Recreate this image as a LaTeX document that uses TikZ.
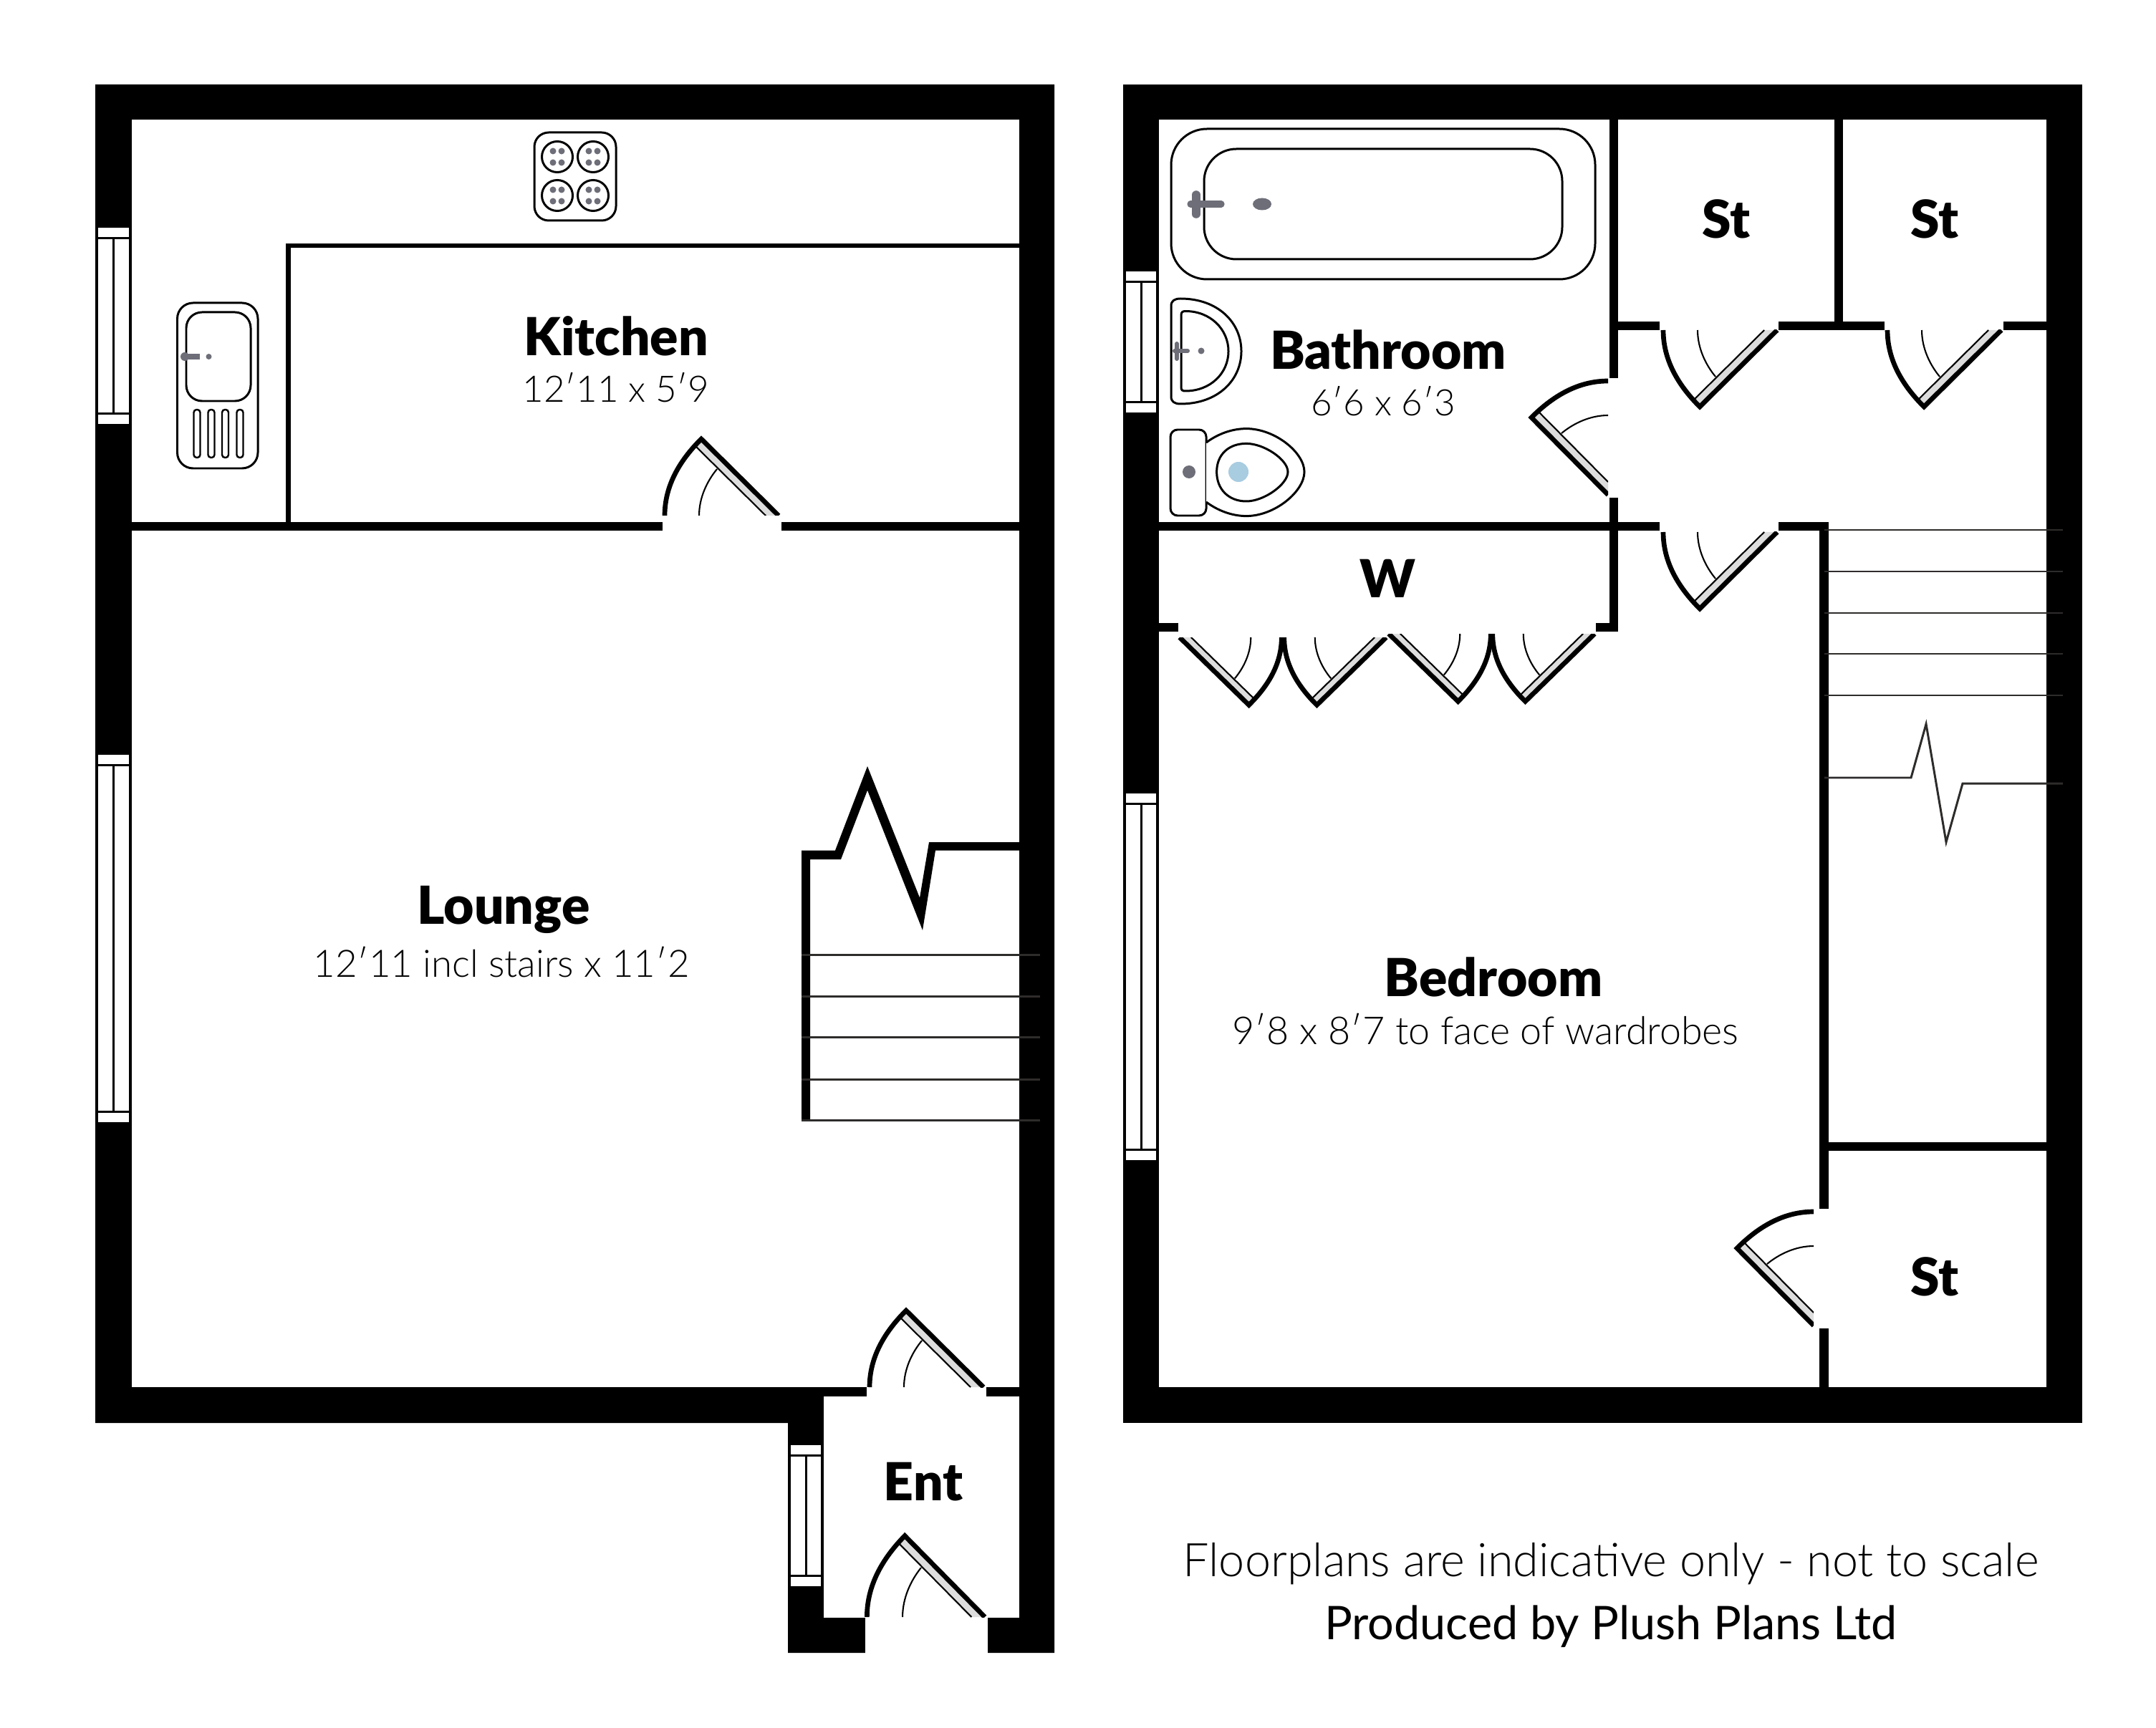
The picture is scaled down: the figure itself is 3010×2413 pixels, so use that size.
\documentclass[tikz,border=0pt]{standalone}
\usepackage{fontspec}
\setmainfont{Lato}
\newfontfamily\roomfont{Lato}[UprightFont=* Black]
\newfontfamily\sizefont{Lato}[UprightFont=* Light]
\definecolor{fixturegrey}{HTML}{6D6E78}
\definecolor{leafgrey}{HTML}{DDDDDD}
\definecolor{treadgrey}{HTML}{2E2C2B}
\definecolor{pan}{HTML}{A8CCE0}
\tikzset{
  wall/.style={fill=black},
  gap/.style={fill=white},
  fixture/.style={draw=black, line width=0.85pt, fill=white},
  tread/.style={draw=treadgrey, line width=0.85pt},
  roomname/.style={font=\roomfont\fontsize{20.8}{25}\selectfont, anchor=base, inner sep=0pt},
  roomsize/.style={font=\sizefont\fontsize{15}{18}\selectfont, anchor=base, inner sep=0pt},
  shortsize/.style={roomsize, font=\sizefont\fontsize{14.5}{18}\selectfont},
  footnote/.style={font=\fontsize{18.4}{22}\selectfont, anchor=base, inner sep=0pt}
}
% door symbol: hinge at the origin, leaf up to the left
\newcommand{\doorswing}[1]{
  \begin{scope}[#1]
    \clip (-175,-125) rectangle (8,0);
    \fill[leafgrey] (-2,0) -- (-110,-107) -- (-117,-96) -- (-20,0) -- cycle;
    \draw[line width=1.9pt] (-2,0) -- (-110,-107) .. controls (-140,-77) and (-161,-42) .. (-161,0);
    \draw[line width=0.6pt] (-20,0) -- (-117,-96);
    \draw[line width=0.6pt] (-113,0) .. controls (-113,-25) and (-102,-48) .. (-88,-65);
  \end{scope}
}
% window symbol in an outer wall
\newcommand{\wallwindow}[4]{
  \fill[gap] (#1,#3) rectangle (#2,#4);
  \draw[line width=0.85pt] (#1,#3+14.5) -- (#2,#3+14.5);
  \draw[line width=0.85pt] (#1,#4-14.5) -- (#2,#4-14.5);
  \draw[line width=0.85pt] ({(#1+#2)/2},#3+14.5) -- ({(#1+#2)/2},#4-14.5);
}
\begin{document}
\begin{tikzpicture}[x=0.01cm, y=-0.01cm]
  \useasboundingbox (0,0) rectangle (3010,2413);
  % Ground floor shell
  \fill[wall] (133,118) -- (1472,118) -- (1472,2308) -- (1100,2308) -- (1100,1987) -- (133,1987) -- cycle;
  \fill[gap] (184,167) rectangle (1423,1937);
  \fill[gap] (1150,1950) rectangle (1423,2258.5);
  \fill[gap] (1208,2258) rectangle (1379,2309);
  \fill[gap] (1210,1936) rectangle (1377,1951);
  % Kitchen walls
  \fill[wall] (184,729) rectangle (925,741);
  \fill[wall] (1091,729) rectangle (1423,741);
  \fill[wall] (399,340) rectangle (406,729);
  \fill[wall] (399,340) rectangle (1423,346);
  % First floor shell
  \fill[wall] (1568,118) rectangle (2907,1987);
  \fill[gap] (1618,167) rectangle (2857,1937);
  % First floor walls
  \fill[wall] (2247,167) rectangle (2259,528);
  \fill[wall] (2247,695) rectangle (2259,882);
  \fill[wall] (2228,870) rectangle (2259,882);
  \fill[wall] (1618,870) rectangle (1644.5,882);
  \fill[wall] (1618,729) rectangle (2316.5,741);
  \fill[wall] (2483,729) rectangle (2552.5,741);
  \fill[wall] (2259,449) rectangle (2317,461);
  \fill[wall] (2483,449) rectangle (2631,461);
  \fill[wall] (2797,449) rectangle (2857,461);
  \fill[wall] (2561,167) rectangle (2573,461);
  \fill[wall] (2540,729) rectangle (2552.5,1688);
  \fill[wall] (2540,1855) rectangle (2552.5,1937);
  \fill[wall] (2552,1595) rectangle (2857,1607);
  % Windows
  \wallwindow{137}{180}{318}{592}
  \wallwindow{137}{180}{1054}{1567}
  \wallwindow{1104}{1146}{2018}{2215}
  \wallwindow{1572}{1614}{379}{576}
  \wallwindow{1572}{1614}{1108}{1620}
  % Doors
  \doorswing{shift={(1089,720)}}
  \doorswing{shift={(1375,1937)}}
  \doorswing{shift={(1377,2258)}, xscale=1.035, yscale=1.06}
  \doorswing{shift={(2483,461)}, yscale=-1}
  \doorswing{shift={(2796,461)}, yscale=-1}
  \doorswing{shift={(2483,743)}, yscale=-1}
  \doorswing{shift={(2245,693)}, x={(0,-0.01cm)}, y={(0.01cm,0)}}
  \doorswing{shift={(2532,1853)}, x={(0,-0.01cm)}, y={(0.01cm,0)}}
  % Wardrobe doors
  \doorswing{shift={(1645,890)}, xscale=-.896, yscale=-.883}
  \doorswing{shift={(1937,890)}, xscale=.896, yscale=-.883}
  \doorswing{shift={(1937,885)}, xscale=-.896, yscale=-.883}
  \doorswing{shift={(2228,885)}, xscale=.896, yscale=-.883}
  % Ground floor stairs
  \fill[wall] (1119,1564) -- (1119,1187.5) -- (1166,1187.5) -- (1211,1070) -- (1284,1253.6) -- (1297,1176) -- (1423,1176)
    -- (1423,1187.5) -- (1306,1187.5) -- (1288,1299) -- (1211,1103.6) -- (1174,1200) -- (1131,1200) -- (1131,1564) -- cycle;
  \foreach \y in {1333,1391,1448.6,1507,1564}
    \draw[tread] (1119,\y) -- (1452,\y);
  % First floor stairs
  \foreach \y in {740,798,856,913,971}
    \draw[tread] (2547,\y) -- (2880,\y);
  \draw[tread] (2547,1086) -- (2668,1086) -- (2689,1011) -- (2717,1176) -- (2740,1094) -- (2880,1094);
  % Cooker
  \draw[fixture, rounded corners=0.2cm] (746,185) rectangle (860,308);
  \foreach \cx in {778,828}
    \foreach \cy in {219,273} {
      \draw[fixture] (\cx,\cy) circle (0.215cm);
      \foreach \dx in {-6,6}
        \foreach \dy in {-8,8}
          \fill[fixturegrey] (\cx+\dx,\cy+\dy) circle (0.045cm);
    }
  % Sink
  \draw[fixture, rounded corners=0.22cm] (247.5,423) rectangle (360,654);
  \draw[fixture, rounded corners=0.22cm] (260,436) rectangle (350,560);
  \foreach \sx in {275,295,314.5,335}
    \draw[fixture, line width=0.7pt, rounded corners=0.04cm] (\sx-4.5,572) rectangle (\sx+4.5,639);
  \draw[fixturegrey, line width=2pt] (256,498) -- (279,498);
  \fill[fixturegrey] (258,498) circle (0.06cm);
  \fill[fixturegrey] (291.5,498) circle (0.04cm);
  % Bath
  \draw[fixture, rounded corners=0.5cm] (1635,180) rectangle (2227,390);
  \draw[fixture, rounded corners=0.45cm] (1681,208) rectangle (2181,362);
  \draw[fixturegrey, line width=3.3pt, line cap=round] (1670,272) -- (1670,299);
  \draw[fixturegrey, line width=2.6pt, line cap=round] (1662,285) -- (1705,285);
  \fill[fixturegrey] (1762,285) ellipse (0.13cm and 0.085cm);
  % Basin
  \draw[fixture] (1635,427) .. controls (1635,420) and (1640,417) .. (1648,417) .. controls (1700,417) and (1733,450) .. (1733,490.5)
    .. controls (1733,531) and (1700,564) .. (1648,564) .. controls (1640,564) and (1635,561) .. (1635,554) -- cycle;
  \draw[fixture] (1649,440) .. controls (1649,436) and (1651,434.5) .. (1655,434.5) .. controls (1690,434.5) and (1715,460) .. (1715,490.5)
    .. controls (1715,521) and (1690,546) .. (1655,546) .. controls (1651,546) and (1649,545) .. (1649,541) -- cycle;
  \draw[fixturegrey, line width=1.7pt, line cap=round] (1643,480) -- (1643,501);
  \draw[fixturegrey, line width=1.7pt, line cap=round] (1640,490) -- (1658,490);
  \fill[fixturegrey] (1677,490) circle (0.045cm);
  % Toilet
  \draw[fixture, rounded corners=0.1cm] (1634,600) rectangle (1684,720);
  \fill[fixturegrey] (1660,659) circle (0.09cm);
  \draw[fixture] (1684,618) .. controls (1700,606) and (1720,598.6) .. (1740,598.6) .. controls (1780,598.6) and (1821,632) .. (1821,659)
    .. controls (1821,686) and (1780,720.6) .. (1740,720.6) .. controls (1720,720.6) and (1700,713) .. (1684,701);
  \draw[fixture] (1698.6,659) .. controls (1698.6,635) and (1715,619.4) .. (1740,619.4) .. controls (1765,619.4) and (1798,642) .. (1798,659)
    .. controls (1798,676) and (1765,700) .. (1740,700) .. controls (1715,700) and (1698.6,683) .. (1698.6,659) -- cycle;
  \fill[pan] (1729,659) circle (0.14cm);
  % Labels
  \node[roomname] (kitchen) at (860,497) {Kitchen};
  \node[shortsize] (kitchensize) at (860,562) {12′11 x 5′9};
  \node[roomname] (lounge) at (703,1290) {Lounge};
  \node[roomsize] (loungesize) at (700,1364) {12′11 incl stairs x 11′2};
  \node[roomname] (ent) at (1289,2095) {Ent};
  \node[roomname] (bathroom) at (1938,516) {Bathroom};
  \node[shortsize] (bathroomsize) at (1931,581) {6′6 x 6′3};
  \node[roomname] (wardrobe) at (1937,834) {W};
  \node[roomname] (bedroom) at (2085,1391) {Bedroom};
  \node[roomsize, font=\sizefont\fontsize{15.3}{18}\selectfont] (bedroomsize) at (2074,1458) {9′8 x 8′7 to face of wardrobes};
  \node[roomname] (storea) at (2410,333) {St};
  \node[roomname] (storeb) at (2701,333) {St};
  \node[roomname] (storec) at (2701,1809) {St};
  \node[footnote, font=\sizefont\fontsize{18.4}{22}\selectfont] (disclaimer) at (2249,2201) {Floorplans are indicative only - not to scale};
  \node[footnote] (producer) at (2249,2289) {Produced by Plush Plans Ltd};
\end{tikzpicture}
\end{document}
